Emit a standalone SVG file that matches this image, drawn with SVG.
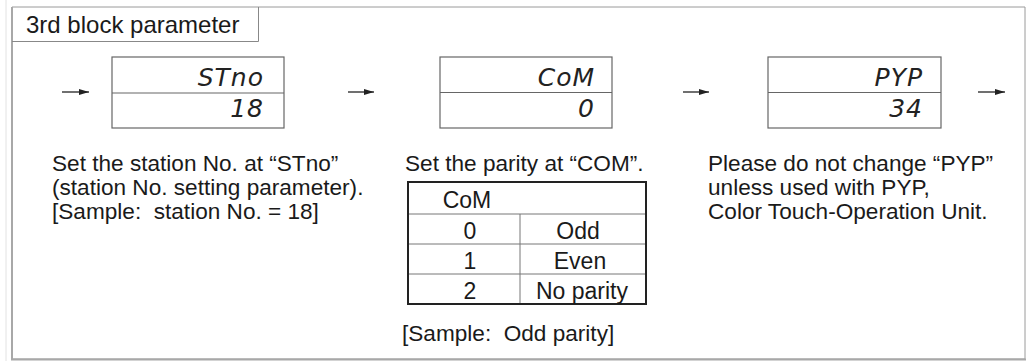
<svg xmlns="http://www.w3.org/2000/svg" width="1026" height="361" viewBox="0 0 1026 361">
<style>
.t{font-family:"Liberation Sans",Arial,sans-serif;font-size:23px;fill:#1a1a1a}
.d{font-size:22.6px}
.seg{font-family:"DejaVu Sans",sans-serif;font-style:italic;font-size:25px;fill:#222;text-anchor:end;letter-spacing:1px}
.box{fill:#fff;stroke:#666;stroke-width:1.2}
.conn{stroke:#222;stroke-width:1.3;fill:none}
.c{text-anchor:middle}
</style>
<defs>
<marker id="ah" markerWidth="10" markerHeight="6" refX="10" refY="3" orient="auto" markerUnits="userSpaceOnUse">
<path d="M0,0 L10,3 L0,6 Z" fill="#222"/>
</marker>
</defs>
<rect width="1026" height="361" fill="#fff"/>
<g id="frame">
<line x1="6" y1="0" x2="6" y2="361" stroke="#e2e2e2" stroke-width="1"/>
<path d="M12,7 H1025 V359 H12 Z" fill="none" stroke="#9a9a9a" stroke-width="1"/>
<line x1="12" y1="7" x2="12" y2="360" stroke="#a8a8a8" stroke-width="2"/>
<line x1="11" y1="359.5" x2="1026" y2="359.5" stroke="#a8a8a8" stroke-width="2"/>
</g>
<g id="title">
<path d="M12,41.5 H258.5 V7" fill="none" stroke="#888" stroke-width="1"/>
<text class="t" x="26" y="33" style="font-size:24px">3rd block parameter</text>
</g>
<g id="connectors">
<line class="conn" x1="62" y1="92" x2="89" y2="92" marker-end="url(#ah)"/>
<line class="conn" x1="348" y1="92" x2="374" y2="92" marker-end="url(#ah)"/>
<line class="conn" x1="683" y1="92" x2="709" y2="92" marker-end="url(#ah)"/>
<line class="conn" x1="978" y1="92" x2="1005" y2="92" marker-end="url(#ah)"/>
</g>
<g id="node-stno">
<rect class="box" x="112" y="57" width="172" height="71"/>
<line x1="112" y1="93" x2="284" y2="93" stroke="#666" stroke-width="1.2"/>
<text class="seg" x="264" y="86">STno</text>
<text class="seg" x="264" y="117">18</text>
</g>
<g id="node-com">
<rect class="box" x="440" y="57" width="172" height="71"/>
<line x1="440" y1="92.5" x2="612" y2="92.5" stroke="#666" stroke-width="1.2"/>
<text class="seg" x="595" y="86">CoM</text>
<text class="seg" x="595" y="117">0</text>
</g>
<g id="node-pyp">
<rect class="box" x="768" y="57" width="173" height="71"/>
<line x1="768" y1="92.5" x2="941" y2="92.5" stroke="#666" stroke-width="1.2"/>
<text class="seg" x="923" y="86">PYP</text>
<text class="seg" x="923" y="117">34</text>
</g>
<g id="desc-stno">
<text class="t d" x="52" y="171">Set the station No. at “STno”</text>
<text class="t d" x="52" y="195">(station No. setting parameter).</text>
<text class="t d" x="52" y="219">[Sample: &#160;station No. = 18]</text>
</g>
<g id="desc-com">
<text class="t d" x="405" y="171">Set the parity at “COM”.</text>
<g id="com-table">
<line x1="408" y1="214" x2="646" y2="214" stroke="#777" stroke-width="1"/>
<line x1="408" y1="244" x2="646" y2="244" stroke="#777" stroke-width="1"/>
<line x1="408" y1="274" x2="646" y2="274" stroke="#777" stroke-width="1"/>
<line x1="520" y1="214" x2="520" y2="304" stroke="#777" stroke-width="1"/>
<rect x="408" y="182" width="238" height="122" fill="none" stroke="#222" stroke-width="2"/>
<text class="t c" x="467" y="208">CoM</text>
<text class="t c" x="470" y="239">0</text>
<text class="t c" x="470" y="269">1</text>
<text class="t c" x="470" y="299">2</text>
<text class="t c" x="578" y="239">Odd</text>
<text class="t c" x="580" y="269">Even</text>
<text class="t c" x="582" y="299">No parity</text>
</g>
<text class="t d" x="402" y="341">[Sample: &#160;Odd parity]</text>
</g>
<g id="desc-pyp">
<text class="t d" x="708" y="171">Please do not change “PYP”</text>
<text class="t d" x="708" y="195">unless used with PYP,</text>
<text class="t d" x="708" y="219">Color Touch-Operation Unit.</text>
</g>
</svg>
